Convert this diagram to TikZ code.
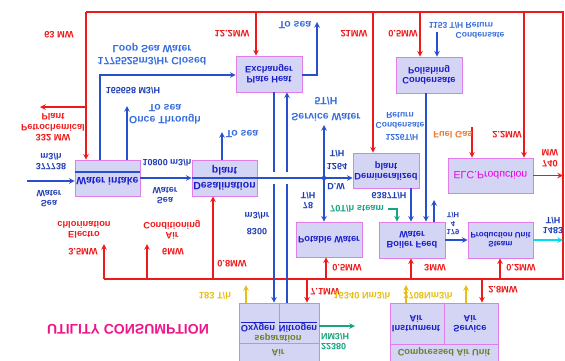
\documentclass[tikz,border=0pt]{standalone}
\usepackage{fontspec}
\setmainfont{Liberation Sans}
\usepackage{xcolor}
\usepackage{tikz}
\usetikzlibrary{arrows}
\definecolor{boxfill}{RGB}{212,212,245}
\definecolor{boxline}{RGB}{225,125,235}
\definecolor{flowblue}{RGB}{40,80,205}
\definecolor{textblue}{RGB}{25,30,200}
\definecolor{lblue}{RGB}{55,110,220}
\definecolor{dblue}{RGB}{30,60,180}
\definecolor{flowred}{RGB}{240,25,25}
\definecolor{fuelorange}{RGB}{240,120,40}
\definecolor{steamteal}{RGB}{20,165,130}
\definecolor{steamcyan}{RGB}{0,220,240}
\definecolor{gasyellow}{RGB}{230,190,20}
\definecolor{olive}{RGB}{105,130,40}
\definecolor{elcmag}{RGB}{230,0,230}
\definecolor{titlemag}{RGB}{240,20,140}
\tikzstyle{unit} = [draw=boxline,fill=boxfill,line width=0.8pt,inner sep=0pt,align=center,text=textblue,font=\bfseries\fontsize{9.3}{10}\selectfont]
\tikzstyle{cell} = [boxline,line width=0.8pt]
\tikzstyle{lbl} = [inner sep=0pt,align=center,text=lblue,font=\bfseries\fontsize{10.5}{11.5}\selectfont]
\tikzstyle{slbl} = [lbl,font=\bfseries\fontsize{8.5}{10}\selectfont]
\tikzstyle{dlbl} = [lbl,text=dblue,font=\bfseries\fontsize{9}{10}\selectfont]
\tikzstyle{rlbl} = [lbl,text=flowred,font=\bfseries\fontsize{9.3}{10.5}\selectfont]
\tikzstyle{ylbl} = [lbl,text=gasyellow,font=\bfseries\fontsize{9.3}{10.5}\selectfont]
\tikzstyle{bline} = [flowblue,line width=1.5pt]
\tikzstyle{bflow} = [bline,->,>=stealth]
\tikzstyle{rline} = [flowred,line width=1.5pt]
\tikzstyle{rflow} = [rline,->,>=stealth]
\tikzstyle{tflow} = [steamteal,line width=1.5pt,->,>=stealth]
\tikzstyle{cflow} = [steamcyan,line width=1.5pt,->,>=stealth]
\tikzstyle{yflow} = [gasyellow,line width=1.5pt,->,>=stealth]
\begin{document}
\begin{tikzpicture}[x=1pt,y=1pt,yscale=-1,transform shape]
  \useasboundingbox (0,0) rectangle (565,360);
  % units
  \node[unit,minimum width=65,minimum height=36,font=\bfseries\fontsize{10.5}{11}\selectfont] (intake) at (107.5,178) {\raisebox{3pt}[7pt][0pt]{Water intake}};
  \node[unit,minimum width=65,minimum height=36,font=\bfseries\fontsize{10.5}{11}\selectfont] (desal) at (224.5,178) {Desalination\\[4pt]plant};
  \node[unit,minimum width=66,minimum height=36] (plate) at (269,74) {Plate Heat\\Exchanger};
  \node[unit,minimum width=66,minimum height=36] (polish) at (429,75) {Condensate\\Polishing};
  \node[unit,minimum width=66,minimum height=35] (demin) at (386,170.5) {Demineralized\\plant};
  \node[unit,minimum width=85,minimum height=35,text=elcmag,font=\fontsize{10.5}{11}\selectfont] (elc) at (490.5,175.5) {ELC.Production};
  \node[unit,minimum width=66,minimum height=35] (potable) at (329,239.5) {Potable Water};
  \node[unit,minimum width=66,minimum height=36] (boiler) at (412,240) {Boiler Feed\\Water};
  \node[unit,minimum width=65,minimum height=36,font=\bfseries\fontsize{8}{9}\selectfont] (steam) at (500.5,240) {Steam\\Production Unit};
  \node[unit,minimum width=80,minimum height=60] (airsep) at (279,333) {};
  \node[unit,minimum width=108,minimum height=60] (comp) at (444,333) {};

  % cells of the two lower units
  \draw[cell] (airsep.south) -- ++(0,28);
  \draw[cell] (airsep.west |- 0,343) -- (airsep.east |- 0,343);
  \draw[cell] (comp.south) -- ++(0,41);
  \draw[cell] (comp.west |- 0,344) -- (comp.east |- 0,344);
  \node[unit,draw=none,fill=none] (oxy) at (258,327) {\underline{Oxygen}};
  \node[unit,draw=none,fill=none] (nitro) at (298,327) {\underline{Nitrogen}};
  \node[unit,draw=none,fill=none,text=olive] (airsepname) at (278,345) {Air\\[4pt]separation};
  \node[unit,draw=none,fill=none] (instr) at (416,323.5) {Instrument\\Air};
  \node[unit,draw=none,fill=none] (serv) at (470,323.5) {Service\\Air};
  \node[unit,draw=none,fill=none,text=olive] (compname) at (444,352) {Compressed Air Unit};
  \draw[bline] (intake.west |- 0,172) -- (intake.east |- 0,172);

  % electric bus
  \coordinate (rtl) at (86,12);
  \coordinate (rtr) at (563,12);
  \coordinate (rbr) at (563,279);
  \coordinate (rbl) at (104,279);
  \draw[rline] (rtl) -- (rtr) -- (rbr) -- (rbl);
  \draw[rflow] (rtl) -- (rtl |- intake.south);
  \coordinate (petro) at (40,107);
  \draw[rflow] (rtl |- petro) -- (petro);
  \coordinate (r1) at (256,12);
  \draw[rflow] (r1) -- (r1 |- plate.south);
  \coordinate (r2) at (373,12);
  \draw[rflow] (r2) -- (r2 |- demin.south);
  \coordinate (r3) at (420,12);
  \draw[rflow] (r3) -- (r3 |- polish.south);
  \coordinate (r4) at (524,12);
  \draw[rflow] (r4) -- (r4 |- elc.south);
  \coordinate (fuel) at (472,127);
  \draw[rflow] (fuel) -- (fuel |- elc.south);
  \draw[rflow] (elc.east) -- (elc.east -| rtr);
  \coordinate (chl) at (104,244);
  \draw[rflow] (rbl) -- (chl);
  \coordinate (airc) at (147,244);
  \draw[rflow] (airc |- rbl) -- (airc);
  \coordinate (r5) at (213,279);
  \draw[rflow] (r5) -- (r5 |- desal.north);
  \coordinate (r6) at (326,279);
  \draw[rflow] (r6) -- (r6 |- potable.north);
  \coordinate (r7) at (411,279);
  \draw[rflow] (r7) -- (r7 |- boiler.north);
  \coordinate (r8) at (500,279);
  \draw[rflow] (r8) -- (r8 |- steam.north);
  \coordinate (r9) at (307,279);
  \draw[rflow] (r9) -- (r9 |- airsep.south);
  \coordinate (r10) at (482,279);
  \draw[rflow] (r10) -- (r10 |- comp.south);

  % water
  \coordinate (sea) at (27,181);
  \draw[bflow] (sea) -- (sea -| intake.west);
  \draw[bflow] (intake) -- (desal);
  \draw[bline] (desal.west) -- (desal.east);
  \draw[bflow] (desal.east) -- (desal.east -| demin.west);
  \coordinate (sw) at (324,178);
  \coordinate (swtop) at (324,125);
  \fill[flowblue] (sw) circle (2.2pt);
  \draw[bflow] (sw) -- (swtop);
  \draw[bflow] (sw) -- (sw |- potable.south);
  \coordinate (ts0) at (127,106);
  \draw[bflow] (ts0 |- intake.south) -- (ts0);
  \coordinate (ts1) at (222,132);
  \draw[bflow] (ts1 |- desal.south) -- (ts1);
  \coordinate (lp) at (100,75);
  \draw[bflow] (lp |- intake.south) -- (lp) -- (lp -| plate.west);
  \coordinate (ts2) at (317,22);
  \draw[bflow] (plate.east |- lp) -- (ts2 |- lp) -- (ts2);
  \coordinate (gapA) at (274,172);
  \coordinate (gapB) at (274,184);
  \coordinate (gapC) at (287,172);
  \coordinate (gapD) at (287,184);
  \draw[bline] (gapA |- plate.north) -- (gapA);
  \draw[bflow] (gapB) -- (gapB |- airsep.south);
  \draw[bline] (gapD |- airsep.south) -- (gapD);
  \draw[bflow] (gapC) -- (gapC |- plate.north);
  \coordinate (cr) at (437,32);
  \draw[bflow] (cr) -- (cr |- polish.south);
  \coordinate (pb) at (426,100);
  \draw[bflow] (pb |- polish.north) -- (pb |- boiler.south);
  \coordinate (db) at (411,200);
  \draw[bflow] (db |- demin.north) -- (db |- boiler.south);
  \coordinate (bu) at (434,200);
  \draw[bflow] (bu |- boiler.south) -- (bu);
  \draw[bflow] (boiler) -- (steam);
  \coordinate (stout) at (563,240);
  \draw[cflow] (steam) -- (stout);
  \coordinate (ts) at (388,209);
  \coordinate (tsd) at (397,222);
  \draw[tflow] (ts) -| (tsd |- boiler.south);
  \coordinate (n2) at (355,326);
  \draw[tflow] (airsep.east |- n2) -- (n2);
  \coordinate (y1) at (246,285);
  \draw[yflow] (y1 |- airsep.south) -- (y1);
  \coordinate (y2) at (406,285);
  \draw[yflow] (y2 |- comp.south) -- (y2);
  \coordinate (y3) at (466,285);
  \draw[yflow] (y3 |- comp.south) -- (y3);

  % labels
  \node[rlbl] (l63) at (59,35) {63 MW};
  \node[rlbl] (lpetro) at (53,122.5) {Petrochemical\\Plant};
  \node[rlbl] (l332) at (53,138) {332 MW};
  \node[rlbl] (l122) at (232,34) {12.2MW};
  \node[rlbl] (l21) at (354,34) {21MW};
  \node[rlbl] (l05a) at (403,34) {0.5MW};
  \node[slbl] (lret) at (461,25) {1153 T/H Return};
  \node[slbl] (lretc) at (480,36) {Condensate};
  \node[rlbl] (l22) at (507,135) {2.2MW};
  \node[rlbl,text=fuelorange] (lfuel) at (453,135) {Fuel Gas};
  \node[rlbl] (l740) at (550,158) {740\\MW};
  \node[lbl] (lloop) at (152,54) {1775525m3/Hr Closed\\[1pt]Loop Sea Water};
  \node[dlbl] (l165) at (133,91) {165658 M3/H};
  \node[lbl] (lonce) at (165,114) {Once Through\\To sea};
  \node[dlbl] (lsea1) at (51,162) {377738\\m3/h};
  \node[dlbl] (lsea2) at (49,198.5) {Sea\\Water};
  \node[dlbl] (l10800) at (167,163) {10800 m3/h};
  \node[dlbl] (lsea3) at (165,196) {Sea\\Water};
  \node[lbl] (ltosea1) at (242,134) {To sea};
  \node[lbl] (ltosea2) at (295,25) {To sea};
  \node[lbl] (lsw) at (326,109) {Service Water\\[5pt]5T/H};
  \node[dlbl] (l1264) at (337,160) {1264\\[3pt]T/H};
  \node[dlbl] (ldw) at (336,187) {D.W};
  \node[dlbl] (l78) at (308,200.5) {78\\T/H};
  \node[dlbl] (l8300) at (257,223.5) {8300\\[6pt]m3/hr};
  \node[slbl] (lcond) at (400,120.5) {Condensate\\Return};
  \node[slbl] (l1226) at (402,137) {1226T/H};
  \node[dlbl] (l6387) at (389,196) {6387T/H};
  \node[rlbl,text=steamteal] (lsteam70) at (357,209) {70T/h steam};
  \node[dlbl,font=\bfseries\fontsize{7.5}{8.5}\selectfont] (l179) at (453,224) {179\\4\\T/H};
  \node[dlbl] (l1483) at (553,226) {1483\\T/H};
  \node[rlbl] (lchl) at (84,230) {Electro\\chlorination};
  \node[rlbl] (lac) at (172,230) {Air\\Conditioning};
  \node[rlbl] (l35) at (83,252) {3.5MW};
  \node[rlbl] (l6) at (173,252) {6MW};
  \node[rlbl] (l08) at (232,264) {0.8MW};
  \node[rlbl] (l05b) at (347,268) {0.5MW};
  \node[rlbl] (l3) at (435,268) {3MW};
  \node[rlbl] (l02) at (521,268) {0.2MW};
  \node[rlbl] (l71) at (325,292) {7.1MW};
  \node[rlbl] (l28) at (503,290) {2.8MW};
  \node[ylbl] (l183) at (215,296) {183 T/h};
  \node[ylbl] (l16340) at (362,296) {16340 Nm3/h};
  \node[ylbl] (l2708) at (428,296) {2708Nm3/h};
  \node[dlbl,text=steamteal,align=left] (l22380) at (335,342) {22380\\NM3/H};
  \node[lbl,text=titlemag,font=\bfseries\fontsize{14}{16}\selectfont] (ltitle) at (128,329) {UTILITY CONSUMPTION};
\end{tikzpicture}
\end{document}
